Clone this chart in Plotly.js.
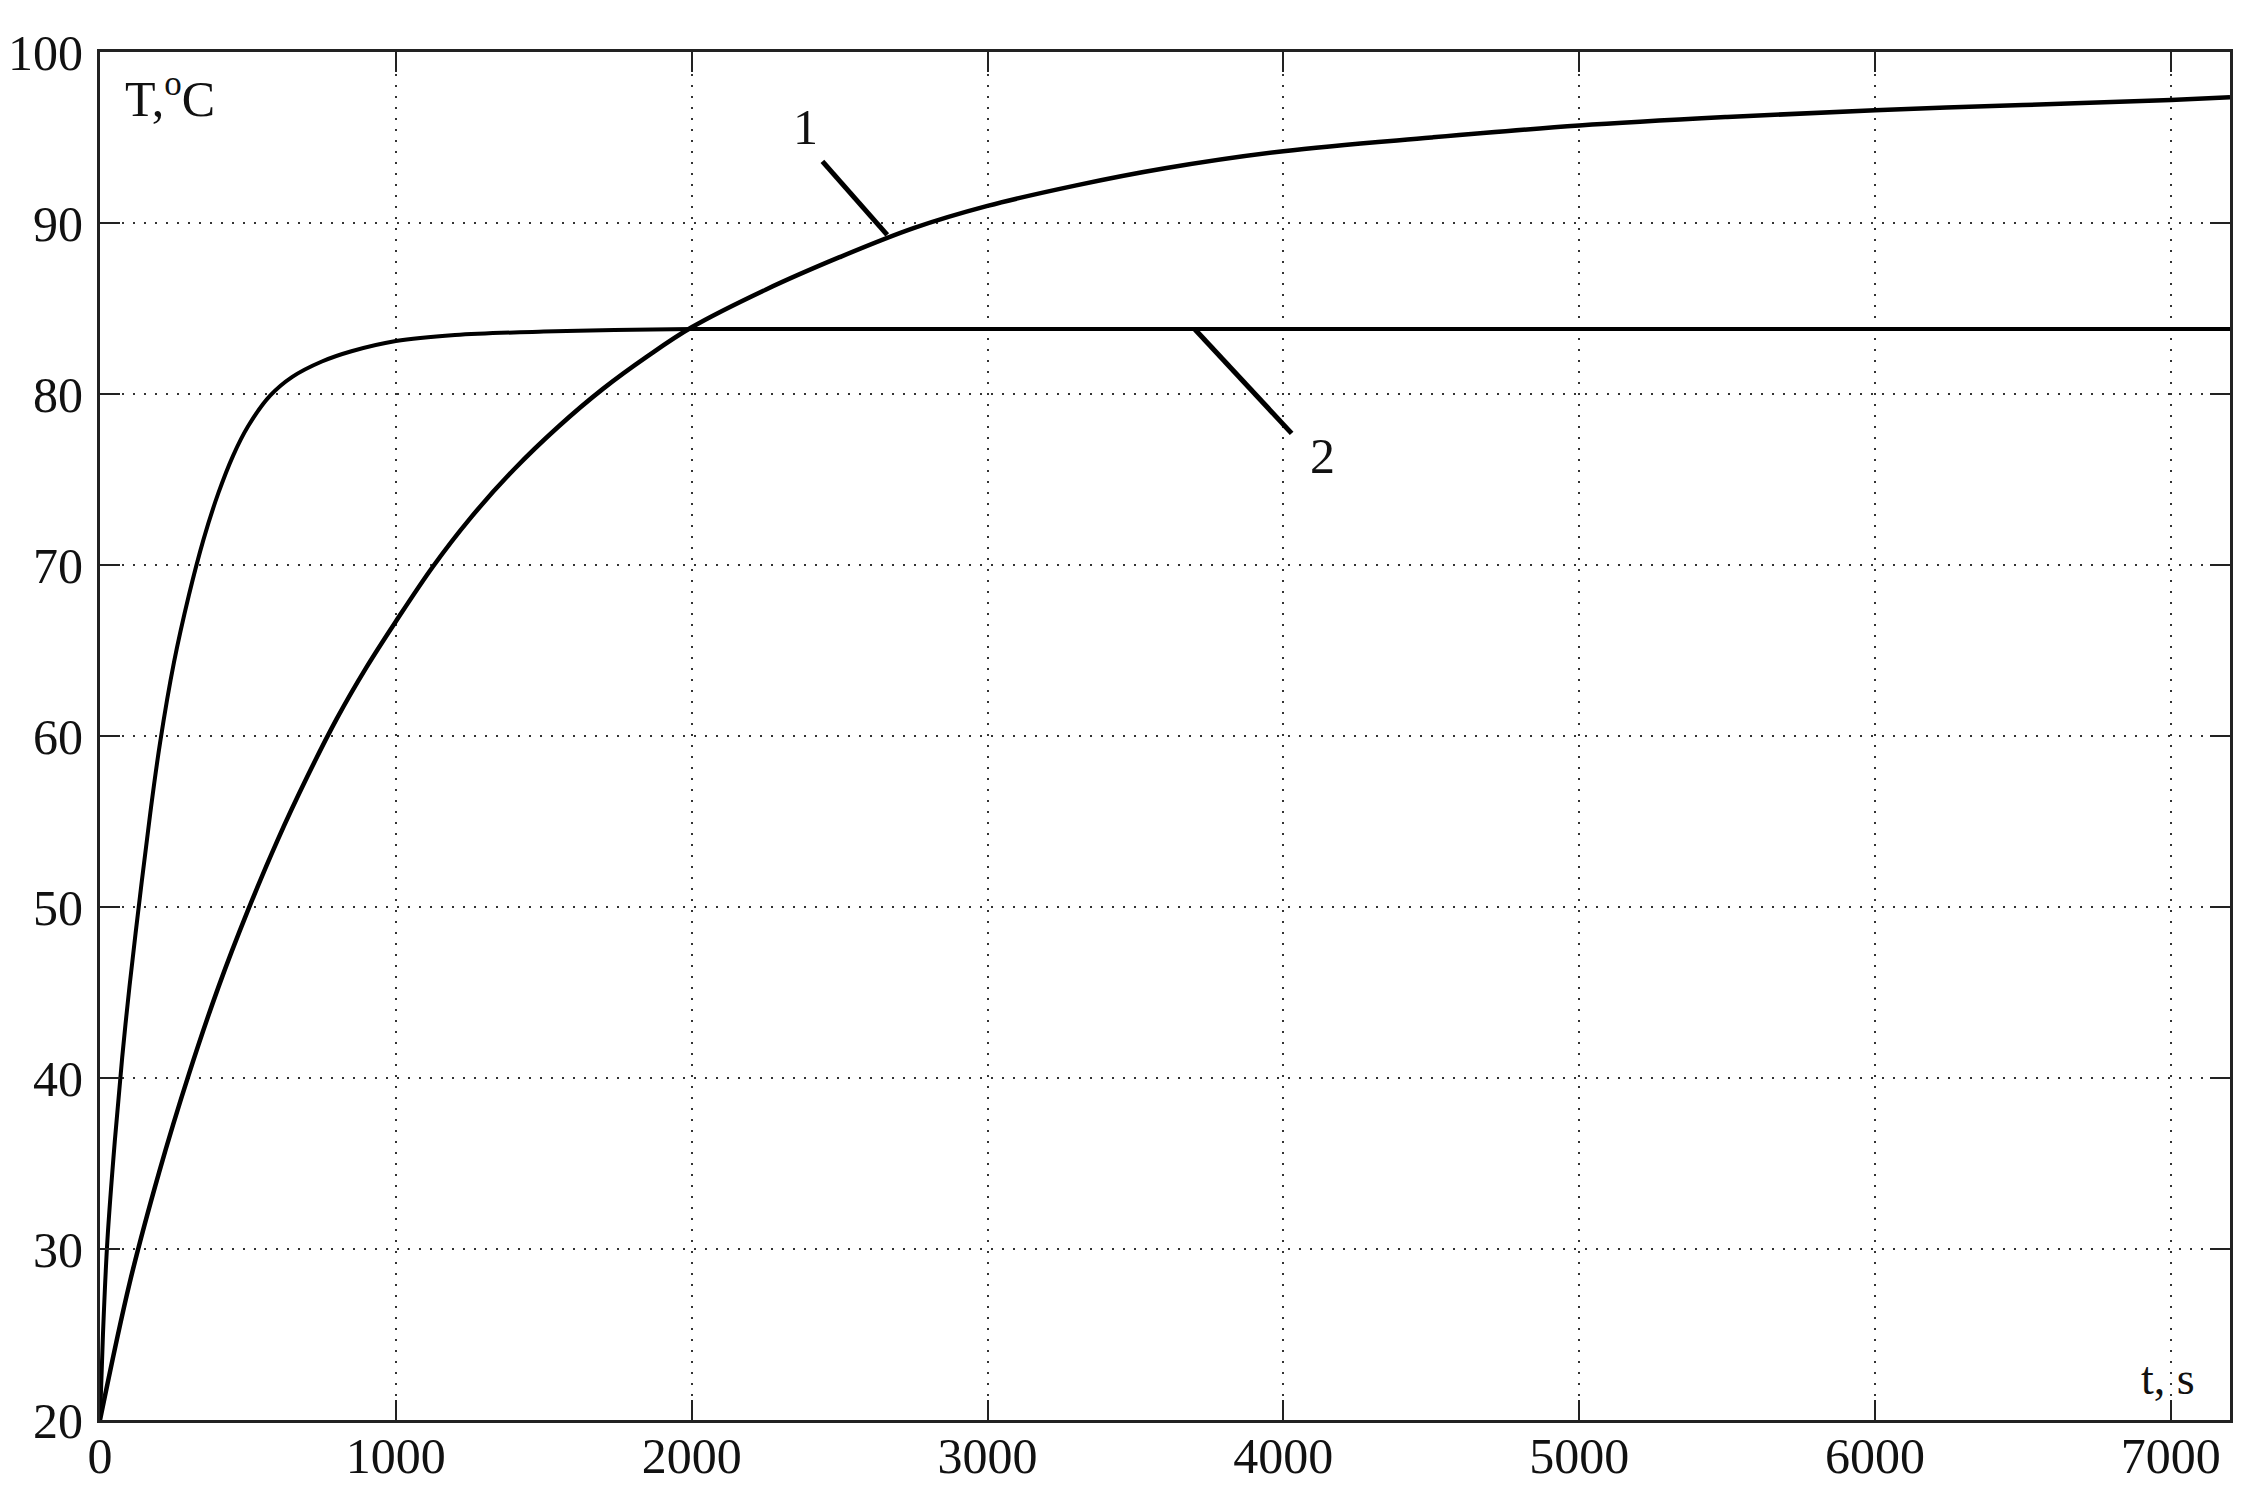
<!DOCTYPE html>
<html>
<head>
<meta charset="utf-8">
<script src="https://cdn.plot.ly/plotly-3.0.1.min.js"></script>
<style>
  body { margin: 0; background: #fff; }
  #plot { width: 2253px; height: 1490px; }
</style>
</head>
<body>
<div id="plot"></div>
<script>
// curve 1 - slow heating
var t1 = [0, 100, 200, 300, 400, 500, 600, 700, 800, 900, 1000, 1125, 1250, 1400, 1550, 1700, 1850, 2000, 2250, 2500, 2750, 3000, 3300, 3600, 4000, 4500, 5000, 5500, 6000, 6500, 7000, 7200];
var temp1 = [20, 28.0, 34.5, 40.2, 45.3, 49.8, 53.9, 57.6, 61.0, 64.0, 66.7, 69.9, 72.7, 75.6, 78.1, 80.3, 82.2, 83.9, 86.1, 88.0, 89.7, 91.0, 92.2, 93.2, 94.2, 95.0, 95.7, 96.2, 96.6, 96.9, 97.2, 97.35];

// curve 2 - fast heating, levels off
var t2 = [0, 10, 25, 50, 75, 100, 135, 170, 203, 250, 300, 350, 400, 450, 500, 575, 650, 750, 850, 1000, 1200, 1500, 2000, 3000, 5000, 7200];
var temp2 = [20, 25.0, 30.5, 36.3, 41.2, 45.4, 50.6, 55.5, 59.6, 64.3, 68.2, 71.5, 74.2, 76.4, 78.1, 79.9, 81.0, 81.9, 82.5, 83.1, 83.45, 83.65, 83.8, 83.8, 83.8, 83.8];

var xTicks = [0, 1000, 2000, 3000, 4000, 5000, 6000, 7000];
var yTicks = [20, 30, 40, 50, 60, 70, 80, 90, 100];

var serif = "Liberation Serif, Times New Roman, serif";

var trace1 = {
    x: t1,
    y: temp1,
    mode: 'lines',
    type: 'scatter',
    line: {color: '#000', width: 4.5, shape: 'spline', smoothing: 1},
    hoverinfo: 'skip'
};
var trace2 = {
    x: t2,
    y: temp2,
    mode: 'lines',
    type: 'scatter',
    line: {color: '#000', width: 4, shape: 'spline', smoothing: 1},
    hoverinfo: 'skip'
};

var axisCommon = {
    showline: true,
    linecolor: '#222',
    linewidth: 3,
    mirror: 'ticks',
    ticks: 'inside',
    ticklen: 20,
    tickwidth: 2,
    tickcolor: '#222',
    showgrid: true,
    gridcolor: '#333',
    gridwidth: 2,
    griddash: '2px,9px',
    zeroline: false,
    tickfont: {family: serif, size: 50, color: '#111'}
};

var layout = {
    width: 2253,
    height: 1490,
    margin: {l: 100, r: 23, t: 52, b: 70},
    paper_bgcolor: '#fff',
    plot_bgcolor: '#fff',
    showlegend: false,
    xaxis: Object.assign({}, axisCommon, {
        range: [0, 7200],
        tickvals: xTicks,
        ticktext: xTicks.map(String),
        ticklabelstandoff: -10
    }),
    yaxis: Object.assign({}, axisCommon, {
        range: [20, 100],
        tickvals: yTicks,
        ticktext: yTicks.map(String),
        ticklabelstandoff: 4
    }),
    shapes: [
        {type: 'line', xref: 'x', yref: 'y', x0: 2442, y0: 93.6, x1: 2661, y1: 89.3,
         line: {color: '#000', width: 5}},
        {type: 'line', xref: 'x', yref: 'y', x0: 3700, y0: 83.8, x1: 4028, y1: 77.7,
         line: {color: '#000', width: 5}}
    ],
    annotations: [
        {xref: 'paper', yref: 'paper', x: 0.011, y: 0.968, xanchor: 'left', yanchor: 'middle',
         text: 'T,<sup>o</sup>C', showarrow: false,
         font: {family: serif, size: 50, color: '#111'}},
        {xref: 'x', yref: 'y', x: 6990, y: 22.4, xanchor: 'center', yanchor: 'middle',
         text: 't, s', showarrow: false,
         font: {family: serif, size: 46, color: '#111'}},
        {xref: 'x', yref: 'y', x: 2384, y: 95.6, xanchor: 'center', yanchor: 'middle',
         text: '1', showarrow: false,
         font: {family: serif, size: 50, color: '#111'}},
        {xref: 'x', yref: 'y', x: 4133, y: 76.4, xanchor: 'center', yanchor: 'middle',
         text: '2', showarrow: false,
         font: {family: serif, size: 50, color: '#111'}}
    ]
};

var data = [trace1, trace2];
Plotly.newPlot('plot', data, layout, {displayModeBar: false, staticPlot: true});
</script>
</body>
</html>
